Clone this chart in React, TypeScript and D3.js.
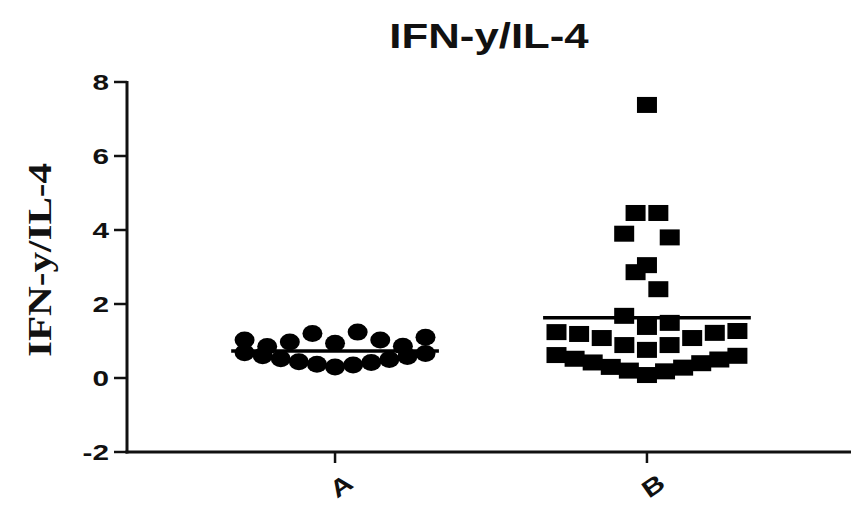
import React from "react";
import * as d3 from "d3";

const categories = ["A", "B"];
// values listed in placement order within each row (center, right, left, ...)
const groupA = [
  0.3, 0.35, 0.37, 0.42, 0.44, 0.5, 0.52, 0.58, 0.6, 0.66, 0.68,
  0.94, 1.24, 1.2, 1.03, 0.97, 0.86, 0.85, 1.1, 1.03,
];
const groupB = [
  0.08, 0.18, 0.2, 0.28, 0.3, 0.4, 0.42, 0.5, 0.52, 0.6, 0.62,
  0.76, 0.89, 0.89, 1.08, 1.08, 1.22, 1.19, 1.27, 1.24,
  1.38, 1.49, 1.68,
  2.4, 2.86,
  3.05, 3.8, 3.9,
  4.46, 4.46,
  7.38,
];
const binEdges = [0, 0.75, 1.33, 2, 3, 4, 5, 6, 7, 8];
const yTicks = [-2, 0, 2, 4, 6, 8];
const title = "IFN-y/IL-4";
const yLabel = "IFN-y/IL-4";

const W = 851;
const H = 505;

function spread(values: number[]) {
  const bins: Record<number, number[]> = {};
  const res: { v: number; off: number; n: number; maxOff: number }[] = [];
  values.forEach((v, i) => {
    let b = binEdges.findIndex((e, k) => k < binEdges.length - 1 && v >= e && v < binEdges[k + 1]);
    if (b < 0) b = binEdges.length;
    (bins[b] = bins[b] || []).push(i);
  });
  Object.values(bins).forEach((idx) => {
    const n = idx.length;
    const maxOff = (n - 1) / 2;
    idx.forEach((i, k) => {
      let off: number;
      if (n % 2 === 1) {
        off = k === 0 ? 0 : Math.ceil(k / 2) * (k % 2 === 1 ? 1 : -1);
      } else {
        const m = Math.floor(k / 2) + 0.5;
        off = k % 2 === 0 ? m : -m;
      }
      res[i] = { v: values[i], off, n, maxOff };
    });
  });
  return res;
}

export default function App() {
  const x = d3.scalePoint<string>().domain(categories).range([127, 855]).padding(0.667);
  const y = d3.scaleLinear().domain([-2, 8]).range([452, 82]);
  const step = x.step();
  const slot = step * 0.073;
  const halfMax = step * 0.29;
  const half = step * 0.333;
  const groups = [groupA, groupB];

  return (
    <svg width={W} height={H} style={{ position: "absolute", left: 0, top: 0, background: "#fff" }}>
      <rect width={W} height={H} fill="#fff" />
      <g transform={`translate(489,48) scale(1.25,1)`}>
        <text textAnchor="middle" fontFamily="Liberation Sans, Arial, sans-serif" fontWeight="bold" fontSize={35} fill="#111">
          {title}
        </text>
      </g>
      <g transform={`translate(51,260) scale(1.3,1) rotate(-90)`}>
        <text textAnchor="middle" fontFamily="Liberation Serif, Times New Roman, serif" fontWeight="bold" fontSize={26} fill="#111" textLength={194} lengthAdjust="spacingAndGlyphs">
          {yLabel}
        </text>
      </g>
      <line x1={127} x2={127} y1={y(8) - 1} y2={y(-2) + 1.5} stroke="#111" strokeWidth={3} />
      {yTicks.map((t) => (
        <g key={t}>
          <line x1={114} x2={127} y1={y(t)} y2={y(t)} stroke="#111" strokeWidth={2.5} />
          <g transform={`translate(109,${y(t)}) scale(1.35,1)`}>
            <text textAnchor="end" dominantBaseline="central" fontFamily="Liberation Sans, Arial, sans-serif" fontWeight="bold" fontSize={22} fill="#111">
              {t}
            </text>
          </g>
        </g>
      ))}
      <line x1={125.5} x2={W} y1={y(-2)} y2={y(-2)} stroke="#111" strokeWidth={3} />
      {categories.map((c) => (
        <g key={c}>
          <line x1={x(c)!} x2={x(c)!} y1={y(-2)} y2={y(-2) + 11} stroke="#111" strokeWidth={2.5} />
          <g transform={`translate(${x(c)! + 6},${y(-2) + 34}) rotate(-35) scale(1.25,1)`}>
            <text textAnchor="middle" dominantBaseline="central" fontFamily="Liberation Sans, Arial, sans-serif" fontWeight="bold" fontSize={24} fill="#111">
              {c}
            </text>
          </g>
        </g>
      ))}
      {groups.map((g, gi) => {
        const cx = x(categories[gi])!;
        const pts = spread(g);
        const mean = d3.mean(g)!;
        return (
          <g key={gi}>
            {pts.map((p, i) => {
              const s = p.maxOff > 0 ? Math.min(slot, halfMax / p.maxOff) : slot;
              const px = cx + p.off * s;
              return gi === 0 ? (
                <ellipse key={i} cx={px} cy={y(p.v)} rx={10} ry={8.5} fill="#000" />
              ) : (
                <rect key={i} x={px - 10} y={y(p.v) - 8} width={20} height={16} fill="#000" />
              );
            })}
            <line x1={cx - half} x2={cx + half} y1={y(mean)} y2={y(mean)} stroke="#000" strokeWidth={3.5} />
          </g>
        );
      })}
    </svg>
  );
}
